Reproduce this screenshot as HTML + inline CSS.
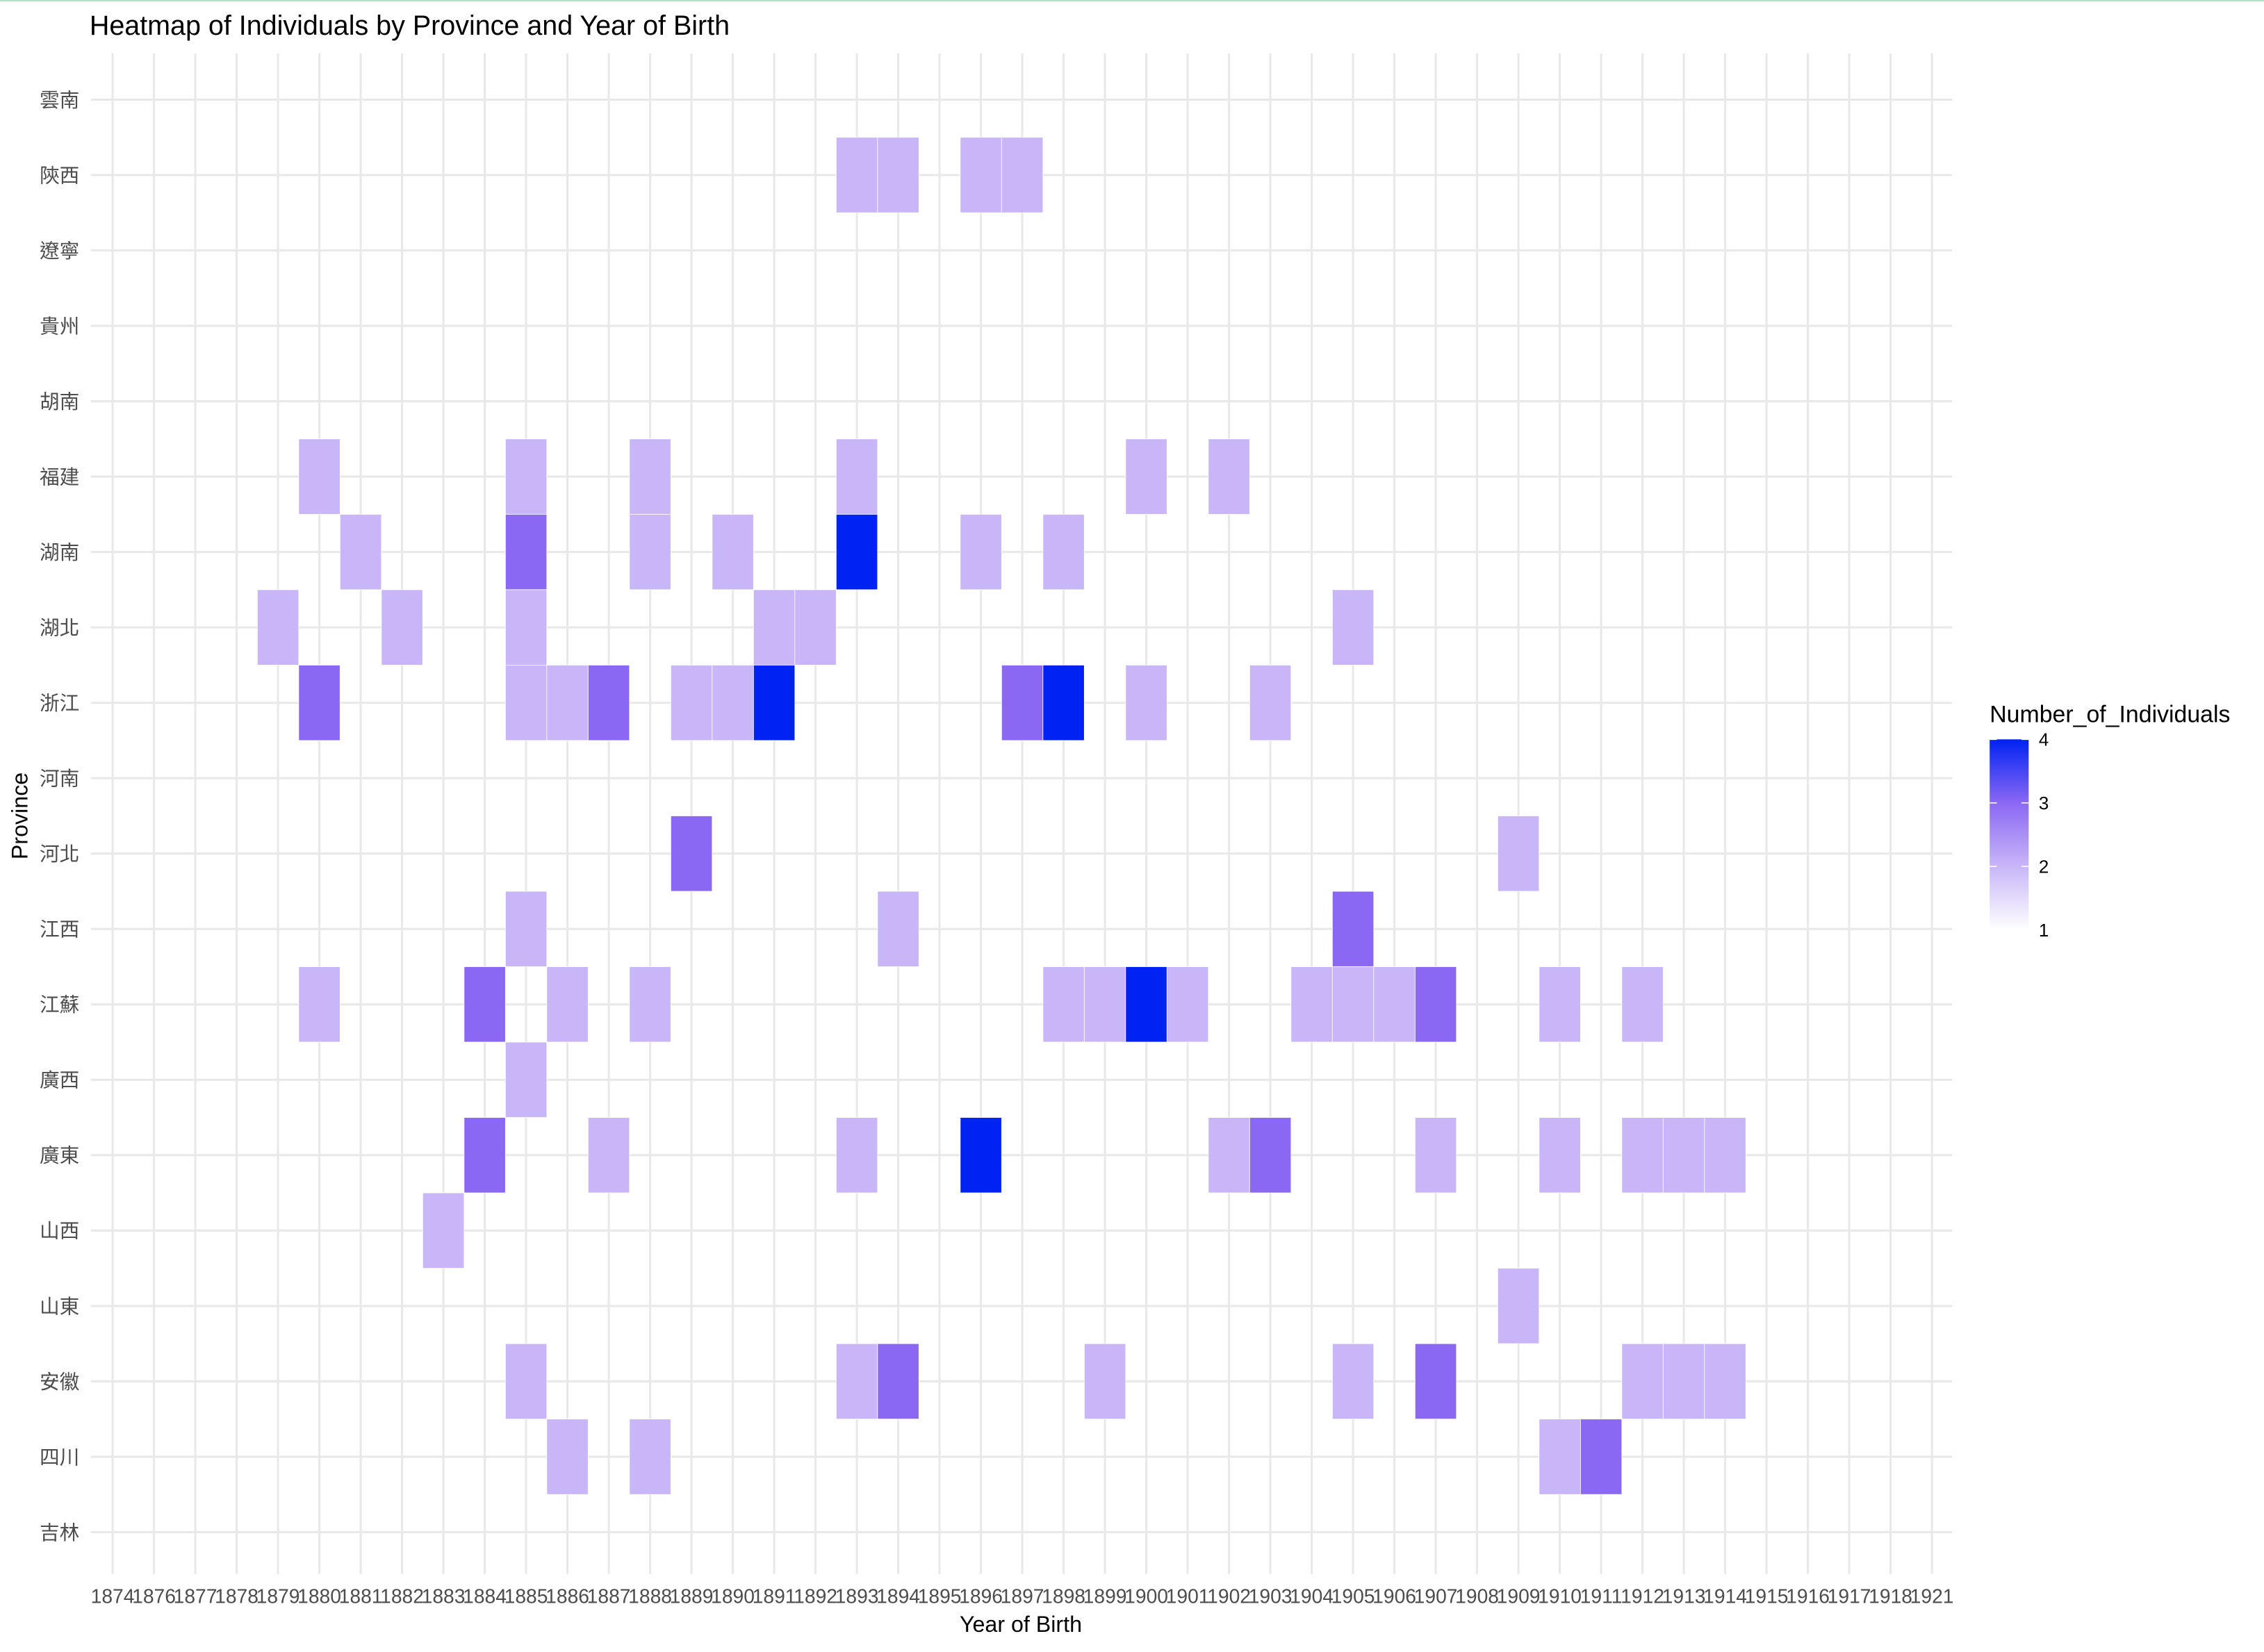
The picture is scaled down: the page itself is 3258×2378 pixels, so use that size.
<!DOCTYPE html>
<html><head><meta charset="utf-8"><style>
html,body{margin:0;padding:0;background:#fff}
svg{display:block}
text{font-family:"Liberation Sans","Noto Sans CJK TC",sans-serif}
</style></head><body>
<svg id="chart" width="3258" height="2378" viewBox="0 0 1568 1144" preserveAspectRatio="none" xmlns="http://www.w3.org/2000/svg">
<defs><linearGradient id="lg" x1="0" y1="1" x2="0" y2="0">
<stop offset="0" stop-color="#ffffff"/><stop offset="0.333" stop-color="#c8b6f8"/><stop offset="0.667" stop-color="#8b68f4"/><stop offset="1" stop-color="#0022f2"/></linearGradient></defs>
<rect x="0" y="0" width="1568" height="1144" fill="#fff"/>
<line x1="0" y1="0.5" x2="1568" y2="0.5" stroke="#b5e0c5" stroke-width="1"/>
<g id="grid"></g>
<g id="tiles"></g>
<g id="ylab"></g>
<g id="xlab"></g>
<text x="62" y="24" font-size="19" fill="#000">Heatmap of Individuals by Province and Year of Birth</text>
<text x="707" y="1130" font-size="15.5" text-anchor="middle" fill="#000">Year of Birth</text>
<text transform="translate(19,565) rotate(-90)" font-size="15.5" text-anchor="middle" fill="#000">Province</text>
<g>
<text x="1378" y="500" font-size="16.3" fill="#000">Number_of_Individuals</text>
<rect x="1378" y="512" width="27" height="132" fill="url(#lg)"/>
<g id="legticks"></g>
</g>
</svg>
<script>
const years = ["1874","1876","1877","1878","1879","1880","1881","1882","1883","1884","1885","1886","1887","1888","1889","1890","1891","1892","1893","1894","1895","1896","1897","1898","1899","1900","1901","1902","1903","1904","1905","1906","1907","1908","1909","1910","1911","1912","1913","1914","1915","1916","1917","1918","1921"];
const provinces = ["雲南","陝西","遼寧","貴州","胡南","福建","湖南","湖北","浙江","河南","河北","江西","江蘇","廣西","廣東","山西","山東","安徽","四川","吉林"];
const cellProvince = ["陝西","陝西","陝西","陝西",
"福建","福建","福建","福建","福建","福建",
"湖南","湖南","湖南","湖南","湖南","湖南","湖南",
"湖北","湖北","湖北","湖北","湖北","湖北",
"浙江","浙江","浙江","浙江","浙江","浙江","浙江","浙江","浙江","浙江","浙江",
"河北","河北",
"江西","江西","江西",
"江蘇","江蘇","江蘇","江蘇","江蘇","江蘇","江蘇","江蘇","江蘇","江蘇","江蘇","江蘇","江蘇","江蘇",
"廣西",
"廣東","廣東","廣東","廣東","廣東","廣東","廣東","廣東","廣東","廣東","廣東",
"山西","山東",
"安徽","安徽","安徽","安徽","安徽","安徽","安徽","安徽","安徽",
"四川","四川","四川","四川"];
const cellYear = ["1893","1894","1896","1897",
"1880","1885","1888","1893","1900","1902",
"1881","1885","1888","1890","1893","1896","1898",
"1879","1882","1885","1891","1892","1905",
"1880","1885","1886","1887","1889","1890","1891","1897","1898","1900","1903",
"1889","1909",
"1885","1894","1905",
"1880","1884","1886","1888","1898","1899","1900","1901","1904","1905","1906","1907","1910","1912",
"1885",
"1884","1887","1893","1896","1902","1903","1907","1910","1912","1913","1914",
"1883","1909",
"1885","1893","1894","1899","1905","1907","1912","1913","1914",
"1886","1888","1910","1911"];
const cellCount = [2,2,2,2,
2,2,2,2,2,2,
2,3,2,2,4,2,2,
2,2,2,2,2,2,
3,2,2,3,2,2,4,3,4,2,2,
3,2,
2,2,3,
2,3,2,2,2,2,4,2,2,2,2,3,2,2,
2,
3,2,2,4,2,3,2,2,2,2,2,
2,2,
2,2,3,2,2,3,2,2,2,
2,2,2,3];
const legendTicks = [1,2,3,4];

const NS="http://www.w3.org/2000/svg";
const x0=78, dx=(1338-78)/(years.length-1), y0=69, dy=(1061-69)/(provinces.length-1);
const xs = y => x0 + years.indexOf(y)*dx;
const ys = p => y0 + provinces.indexOf(p)*dy;
const colorScale = v => { const stops=[[255,255,255],[200,182,248],[139,104,244],[0,34,242]];
  const t=Math.max(0,Math.min(3,v-1)); const i=Math.min(2,Math.floor(t)), f=t-i;
  const c=stops[i].map((a,k)=>Math.round(a+(stops[i+1][k]-a)*f)); return `rgb(${c})`; };
function mk(tag,attrs,parent){const e=document.createElementNS(NS,tag);for(const k in attrs)e.setAttribute(k,attrs[k]);parent.appendChild(e);return e;}
const grid=document.getElementById('grid');
years.forEach(y=>{const l=mk('line',{x1:xs(y),x2:xs(y),y1:37,y2:1090,stroke:'#e9e9e9','stroke-width':1.5},grid);

});
provinces.forEach(p=>{const l=mk('line',{x1:63,x2:1352,y1:ys(p),y2:ys(p),stroke:'#e9e9e9','stroke-width':1.5},grid);

});
const tiles=document.getElementById('tiles');
cellCount.forEach((v,i)=>{const r=mk('rect',{x:xs(cellYear[i])-dx/2,y:ys(cellProvince[i])-dy/2,width:dx,height:dy,fill:colorScale(v),stroke:'#ffffff','stroke-width':0.4},tiles);

});
const yl=document.getElementById('ylab');
provinces.forEach(p=>{const t=mk('text',{x:55,y:ys(p)+5,'font-size':13.8,'text-anchor':'end',fill:'#4d4d4d'},yl);t.textContent=p;

});
const xl=document.getElementById('xlab');
years.forEach(y=>{const t=mk('text',{x:xs(y),y:1110,'font-size':13.6,'text-anchor':'middle',fill:'#4d4d4d'},xl);t.textContent=y;

});
const lt=document.getElementById('legticks');
legendTicks.forEach(v=>{const yy=644-(v-1)/3*132;
mk('line',{x1:1378,x2:1383,y1:yy,y2:yy,stroke:'#fff','stroke-width':0.8},lt);
mk('line',{x1:1400,x2:1405,y1:yy,y2:yy,stroke:'#fff','stroke-width':0.8},lt);
const t=mk('text',{x:1412,y:yy+4.5,'font-size':12.5,fill:'#000'},lt);t.textContent=v;

});
</script>
</body></html>
